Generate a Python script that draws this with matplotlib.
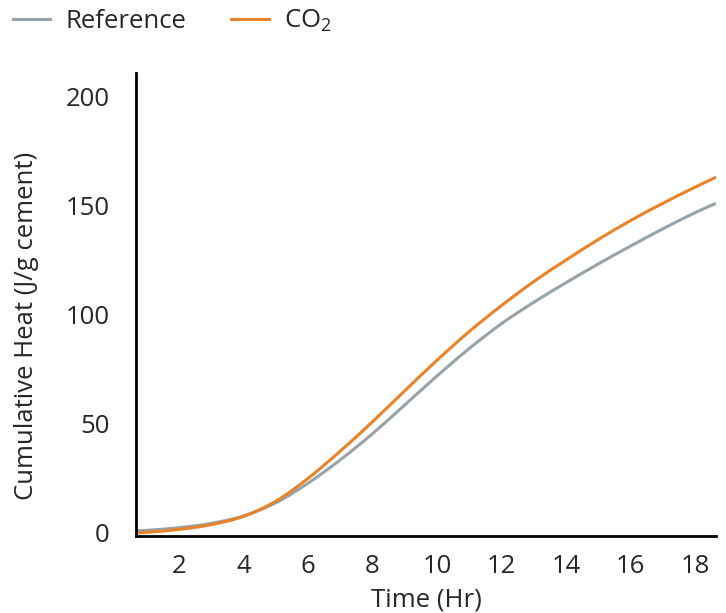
import matplotlib
matplotlib.use("Agg")
import matplotlib.pyplot as plt
from matplotlib.path import Path
from matplotlib.patches import PathPatch
from matplotlib.lines import Line2D
import numpy as np

time_hr = [0.67, 1, 2, 3, 4, 5, 6, 7, 8, 9, 10, 11, 12, 13, 14, 15, 16, 17, 18, 18.65]
reference = [1.0, 1.2, 2.4, 4.4, 7.8, 13.8, 22.8, 33.5, 45.5, 58.7, 72.0, 84.6, 96.0, 105.8, 114.8, 123.4, 131.6, 139.5, 146.9, 151.2]
co2 = [0.0, 0.3, 1.6, 3.8, 7.6, 14.5, 25.0, 37.5, 51.0, 65.2, 79.2, 92.4, 104.3, 115.3, 125.2, 134.6, 143.3, 151.2, 158.6, 163.2]
series_names = ["Reference", "CO$_2$"]
series_colors = ['#97a3a8', '#e8832a']
x_ticks = [2, 4, 6, 8, 10, 12, 14, 16, 18]
y_ticks = [0, 50, 100, 150, 200]

plt.rcParams['font.family'] = ['Open Sans', 'DejaVu Sans']
plt.rcParams['mathtext.fontset'] = 'custom'
plt.rcParams['mathtext.rm'] = 'Open Sans'
plt.rcParams['mathtext.it'] = 'Open Sans'
plt.rcParams['mathtext.bf'] = 'Open Sans'
text_color = '#23282d'
fs = 18.5

fig = plt.figure(figsize=(7.26, 6.13), dpi=100)
ax = fig.add_axes([136/726, (613-536)/613, (716-136)/726, (536-73)/613])


def smooth_path(xs, ys):
    """Catmull-Rom style curve through the data points, as cubic Bezier segments."""
    xs = np.asarray(xs, float)
    ys = np.asarray(ys, float)
    n = len(xs)
    verts = [(xs[0], ys[0])]
    codes = [Path.MOVETO]
    for i in range(n - 1):
        i0 = max(i - 1, 0)
        i3 = min(i + 2, n - 1)
        h = xs[i + 1] - xs[i]
        m1 = (ys[i + 1] - ys[i0]) / (xs[i + 1] - xs[i0])
        m2 = (ys[i3] - ys[i]) / (xs[i3] - xs[i])
        verts += [(xs[i] + h / 3, ys[i] + m1 * h / 3),
                  (xs[i + 1] - h / 3, ys[i + 1] - m2 * h / 3),
                  (xs[i + 1], ys[i + 1])]
        codes += [Path.CURVE4] * 3
    return Path(verts, codes)


handles = []
for vals, name, col in zip([reference, co2], series_names, series_colors):
    ax.add_patch(PathPatch(smooth_path(time_hr, vals), facecolor='none',
                           edgecolor=col, lw=2.2, capstyle='butt',
                           transform=ax.transData, clip_on=True))
    handles.append(Line2D([], [], color=col, lw=2.2, label=name))

ax.set_xlim(0.67, 18.65)
ax.set_ylim(-1.4, 211)
ax.set_xticks(x_ticks)
ax.set_yticks(y_ticks)
ax.tick_params(length=0, labelsize=fs, colors=text_color)
ax.tick_params(axis='x', pad=13)
ax.tick_params(axis='y', pad=19)
for s in ['top', 'right']:
    ax.spines[s].set_visible(False)
for s in ['left', 'bottom']:
    ax.spines[s].set_linewidth(2)
    ax.spines[s].set_color('black')

ax.set_xlabel('Time (Hr)', fontsize=fs, color=text_color, labelpad=6)
ax.set_ylabel('Cumulative Heat (J/g cement)', fontsize=fs, color=text_color)
ax.yaxis.set_label_coords(-0.168, 0.4536)

fig.legend(handles=handles, loc='upper left', bbox_to_anchor=(-0.014, 1.025), ncol=2,
           frameon=False, fontsize=fs, handlelength=1.45, handletextpad=0.6,
           columnspacing=1.75, labelcolor=text_color)

fig.savefig('out.png', dpi=100)
